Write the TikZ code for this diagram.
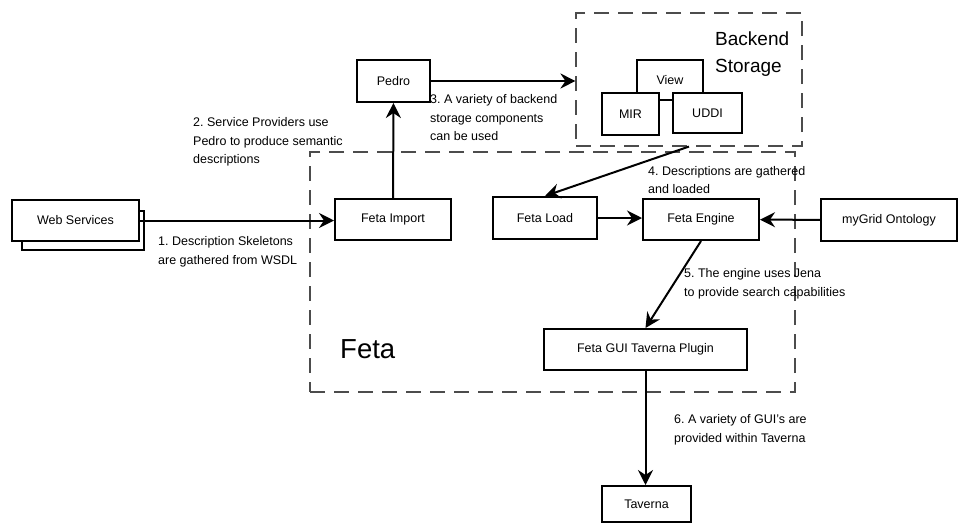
\documentclass[tikz,border=0pt]{standalone}
\usepackage{fontspec}
\setmainfont{Liberation Sans}
\frenchspacing
\usepackage{tikz}
\usetikzlibrary{shapes.geometric, arrows.meta}
\tikzstyle{process} = [rectangle, draw=black, line width=2pt, fill=white, text centered, inner sep=0pt, font=\fontsize{12.5}{15}\selectfont]
\tikzstyle{group} = [rectangle, draw=black!70, line width=1.1pt, dash pattern=on 15pt off 9pt, inner sep=0pt]
\tikzstyle{note} = [anchor=west, align=left, inner sep=0pt, font=\fontsize{12.5}{18.5}\selectfont]
\tikzstyle{arrow} = [line width=2pt, -{Stealth[length=15pt, width=15pt, inset=5pt]}]

\begin{document}
\begin{tikzpicture}[x=1pt, y=-1pt]
        \useasboundingbox (0,0) rectangle (959,523);
        \node (feta) [group, minimum width=485pt, minimum height=240pt] at (552.5,272) {};
        \node (backend) [group, minimum width=226pt, minimum height=133pt] at (689,79.5) {};
        \node (fetatitle) [anchor=west, inner sep=0pt, font=\fontsize{27.5}{30}\selectfont] at (340,349) {Feta};
        \node (backendtitle) [anchor=west, align=left, inner sep=0pt, font=\fontsize{19}{27}\selectfont] at (715,54.5) {Backend\\Storage};
        \node (wsback) [process, minimum width=122pt, minimum height=39pt] at (83,230.5) {};
        \node (ws) [process, minimum width=127pt, minimum height=41pt] at (75.5,220.5) {Web Services};
        \node (import) [process, minimum width=116pt, minimum height=41pt] at (393,219.5) {Feta Import};
        \node (pedro) [process, minimum width=73pt, minimum height=42pt] at (393.5,81) {Pedro};
        \node (view) [process, minimum width=66pt, minimum height=40pt] at (670,80) {View};
        \node (mir) [process, minimum width=57pt, minimum height=42pt] at (630.5,114) {MIR};
        \node (uddi) [process, minimum width=69pt, minimum height=40pt] at (707.5,113) {UDDI};
        \node (load) [process, minimum width=104pt, minimum height=42pt] at (545,218) {Feta Load};
        \node (engine) [process, minimum width=116pt, minimum height=41pt] at (701,219.5) {Feta Engine};
        \node (ontology) [process, minimum width=136pt, minimum height=42pt] at (889,220) {myGrid Ontology};
        \node (gui) [process, minimum width=203pt, minimum height=41pt] at (645.5,349.5) {Feta GUI Taverna Plugin};
        \node (taverna) [process, minimum width=89pt, minimum height=36pt] at (646.5,504) {Taverna};
        \draw [arrow] (ws.east) -- (ws.east -| import.west);
        \draw [arrow] (import) -- (pedro);
        \draw [arrow] (pedro) -- (pedro -| backend.west);
        \draw [arrow] (backend.south) -- (load.north);
        \draw [arrow] (load.east) -- (load.east -| engine.west);
        \draw [arrow] (ontology) -- (engine);
        \draw [arrow] (engine.south) -- (gui.north);
        \draw [arrow] (gui.south) -- (gui.south |- taverna.north);
        \node (note1) [note] at (158,252) {1. Description Skeletons\\are gathered from WSDL};
        \node (note2) [note] at (193,142) {2. Service Providers use\\Pedro to produce semantic\\descriptions};
        \node (note3) [note] at (430,118) {3. A variety of backend\\storage components\\can be used};
        \node (note4) [note] at (648,180) {4. Descriptions are gathered\\and loaded};
        \node (note5) [note] at (684,284) {5. The engine uses Jena\\to provide search capabilities};
        \node (note6) [note] at (674,430) {6. A variety of GUI's are\\provided within Taverna};
    \end{tikzpicture}
\end{document}
